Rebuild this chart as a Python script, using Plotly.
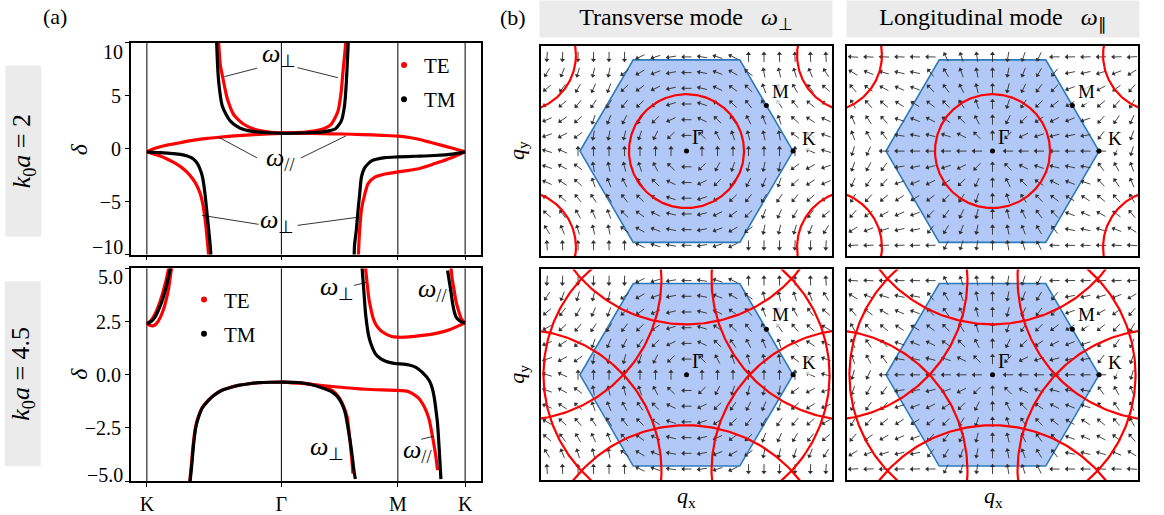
import numpy as np
import plotly.graph_objects as go

W, H = 1164, 515
SERIF = "Liberation Serif"
RED, BLACK = "#ff0000", "#000000"

# ---------------------------------------------------------------------------
# Band structure along K-Γ-M-K (path coordinate in units of |ΓK|)
# ---------------------------------------------------------------------------
path_ticks = [0.0, 1.0, 1.866, 2.366]
path_labels = ["K", "Γ", "M", "K"]

# k0 a = 2, TE
te2_par_s = [0, 0.05, 0.10, 0.15, 0.20, 0.27, 0.35, 0.45, 0.52, 0.65, 0.77, 0.90, 1.0,
             1.15, 1.30, 1.45, 1.60, 1.75, 1.866, 1.95, 2.02, 2.10, 2.18, 2.26, 2.366]
te2_par_d = [-0.3, -0.02, 0.18, 0.33, 0.45, 0.62, 0.80, 0.97, 1.05, 1.20, 1.30, 1.40, 1.45,
             1.45, 1.42, 1.38, 1.33, 1.25, 1.18, 1.05, 0.88, 0.62, 0.35, 0.08, -0.3]
te2_up_s = [0.531, 0.534, 0.546, 0.566, 0.596, 0.646, 0.72, 0.82, 0.92, 1.0, 1.08, 1.18,
            1.295, 1.37, 1.42, 1.445, 1.458, 1.475, 1.48]
te2_up_d = [10.6, 9.9, 7.9, 6.6, 4.8, 3.2, 2.3, 1.75, 1.55, 1.5, 1.5, 1.56,
            1.8, 2.3, 3.5, 5.4, 7.3, 9.5, 10.6]
te2_lowl_s = [0, 0.05, 0.10, 0.15, 0.20, 0.25, 0.30, 0.34, 0.372, 0.395, 0.41, 0.427, 0.442, 0.455, 0.462]
te2_lowl_d = [-0.3, -0.5, -0.7, -0.98, -1.3, -1.7, -2.25, -2.85, -3.5, -4.2, -4.9, -6.1, -7.7, -9.5, -10.6]
te2_lowr_s = [1.571, 1.575, 1.582, 1.595, 1.62, 1.645, 1.695, 1.77, 1.866, 1.95, 2.02, 2.10, 2.18, 2.27, 2.366]
te2_lowr_d = [-10.6, -9.3, -7.7, -5.8, -4.3, -3.3, -2.7, -2.4, -2.2, -2.05, -1.9, -1.6, -1.25, -0.84, -0.3]

# k0 a = 2, TM
tm2_up_s = [0.517, 0.52, 0.525, 0.534, 0.559, 0.59, 0.621, 0.67, 0.72, 0.80, 0.90, 1.0, 1.10,
            1.20, 1.295, 1.36, 1.40, 1.445, 1.47, 1.483, 1.495, 1.499]
tm2_up_d = [10.6, 9.6, 8.0, 6.3, 4.1, 3.2, 2.6, 2.1, 1.8, 1.6, 1.5, 1.45, 1.46,
            1.5, 1.56, 1.7, 1.85, 2.6, 4.1, 6.3, 9.4, 10.6]
tm2_lowl_s = [0, 0.05, 0.10, 0.15, 0.20, 0.25, 0.30, 0.33, 0.36, 0.38, 0.397, 0.412, 0.422,
              0.435, 0.447, 0.46, 0.472, 0.478]
tm2_lowl_d = [-0.3, -0.35, -0.38, -0.42, -0.47, -0.55, -0.7, -0.85, -1.15, -1.5, -2.0, -2.6, -3.3,
              -4.6, -6.1, -7.7, -9.3, -10.6]
tm2_lowr_s = [1.54, 1.544, 1.557, 1.57, 1.582, 1.595, 1.62, 1.67, 1.77, 1.866, 2.0, 2.14, 2.27, 2.366]
tm2_lowr_d = [-10.6, -9.1, -7.7, -5.8, -4.3, -2.7, -1.8, -1.15, -0.85, -0.78, -0.72, -0.65, -0.52, -0.3]

# k0 a = 4.5, TE
te45_ka_s = [0, 0.03, 0.06, 0.09, 0.12, 0.145, 0.165]
te45_ka_d = [2.4, 2.55, 2.85, 3.3, 3.9, 4.5, 5.1]
te45_kb_s = [0, 0.02, 0.045, 0.07, 0.10, 0.13, 0.16, 0.185]
te45_kb_d = [2.4, 2.33, 2.3, 2.4, 2.7, 3.2, 4.0, 5.1]
te45_main_s = [0.317, 0.33, 0.344, 0.36, 0.381, 0.41, 0.456, 0.50, 0.555, 0.62, 0.68, 0.76, 0.83, 0.92, 1.0]
te45_main_d = [-5.1, -4.3, -3.3, -2.5, -2.0, -1.55, -1.2, -0.95, -0.73, -0.6, -0.5, -0.42, -0.375, -0.35, -0.34]
te45_perp_s = [1.0, 1.13, 1.25, 1.32, 1.377, 1.427, 1.46, 1.489, 1.507, 1.522, 1.532]
te45_perp_d = [-0.34, -0.37, -0.47, -0.58, -0.73, -1.05, -1.45, -1.98, -2.92, -3.86, -4.64]
te45_par_s = [1.0, 1.13, 1.377, 1.626, 1.862, 1.94, 1.975, 2.02, 2.05, 2.08, 2.10, 2.124, 2.149, 2.161]
te45_par_d = [-0.34, -0.39, -0.55, -0.68, -0.73, -0.78, -0.89, -1.1, -1.36, -1.75, -2.14, -2.92, -3.86, -4.48]
te45_upr_s = [1.624, 1.638, 1.65, 1.663, 1.68, 1.70, 1.735, 1.775, 1.82, 1.862, 1.95, 2.05, 2.15, 2.25, 2.366]
te45_upr_d = [5.1, 4.27, 3.6, 3.17, 2.7, 2.39, 2.1, 1.92, 1.8, 1.77, 1.78, 1.85, 1.95, 2.12, 2.44]
te45_kr_s = [2.366, 2.34, 2.32, 2.30, 2.285, 2.27, 2.26]
te45_kr_d = [2.44, 2.6, 2.95, 3.4, 3.95, 4.5, 5.1]

# k0 a = 4.5, TM
tm45_kl_s = [0, 0.03, 0.06, 0.09, 0.12, 0.15, 0.178]
tm45_kl_d = [2.4, 2.5, 2.7, 3.1, 3.6, 4.3, 5.1]
tm45_main_s = [0.32, 0.333, 0.347, 0.363, 0.384, 0.413, 0.458, 0.50, 0.555, 0.62, 0.68, 0.76, 0.83, 0.92, 1.0]
tm45_main_d = [-5.1, -4.3, -3.3, -2.5, -2.0, -1.55, -1.2, -0.96, -0.74, -0.6, -0.5, -0.42, -0.37, -0.35, -0.34]
tm45_perp_s = [1.0, 1.13, 1.25, 1.377, 1.42, 1.45, 1.475, 1.49, 1.514, 1.53, 1.539, 1.55]
tm45_perp_d = [-0.34, -0.36, -0.5, -0.81, -1.05, -1.36, -1.8, -2.3, -3.23, -4.0, -4.48, -4.9]
tm45_mid_s = [1.599, 1.613, 1.626, 1.651, 1.675, 1.70, 1.74, 1.775, 1.82, 1.862, 1.91, 1.95, 2.0,
              2.05, 2.099, 2.12, 2.136, 2.15, 2.161, 2.174, 2.186]
tm45_mid_d = [5.1, 3.95, 2.86, 1.77, 1.3, 0.98, 0.75, 0.64, 0.56, 0.52, 0.5, 0.46, 0.35,
              0.1, -0.27, -0.6, -1.05, -1.7, -2.3, -3.55, -4.9]
tm45_kr_s = [2.366, 2.345, 2.323, 2.30, 2.286, 2.272, 2.261, 2.248, 2.236]
tm45_kr_d = [2.44, 2.47, 2.55, 2.7, 2.95, 3.4, 3.9, 4.4, 4.9]

bands_top = [
    (RED, te2_par_s, te2_par_d), (RED, te2_up_s, te2_up_d),
    (RED, te2_lowl_s, te2_lowl_d), (RED, te2_lowr_s, te2_lowr_d),
    (BLACK, tm2_up_s, tm2_up_d), (BLACK, tm2_lowl_s, tm2_lowl_d), (BLACK, tm2_lowr_s, tm2_lowr_d),
]
bands_bottom = [
    (RED, te45_ka_s, te45_ka_d), (RED, te45_kb_s, te45_kb_d), (RED, te45_main_s, te45_main_d),
    (RED, te45_perp_s, te45_perp_d), (RED, te45_par_s, te45_par_d), (RED, te45_upr_s, te45_upr_d),
    (RED, te45_kr_s, te45_kr_d),
    (BLACK, tm45_kl_s, tm45_kl_d), (BLACK, tm45_main_s, tm45_main_d), (BLACK, tm45_perp_s, tm45_perp_d),
    (BLACK, tm45_mid_s, tm45_mid_d), (BLACK, tm45_kr_s, tm45_kr_d),
]

# y ticks of the two band panels
top_ticks = [-10, -5, 0, 5, 10]
top_tick_text = ["−10", "−5", "0", "5", "10"]
bot_ticks = [-5, -2.5, 0, 2.5, 5]
bot_tick_text = ["−5.0", "−2.5", "0.0", "2.5", "5.0"]

# ---------------------------------------------------------------------------
# Brillouin-zone maps (q in units of |ΓK|)
# ---------------------------------------------------------------------------
k0a_values = [2, 4.5]
light_cone_radius = [0.54, 1.343]    # radius of the |q + G| = k0 circles
recip_len = 1.822                    # |G| of the reciprocal lattice
grid_dx, grid_dy = 0.1455, 0.149     # polarisation sampling grid
arrow_len = 0.095


def px_x(p):
    return p / W


def px_y(p):
    return 1 - p / H


def xd(a, b):
    return [a / W, b / W]


def yd(top, bot):
    return [1 - bot / H, 1 - top / H]


fig = go.Figure()

# ---- band panels ----
for (xa, ya, bands) in [("x", "y", bands_top), ("x2", "y2", bands_bottom)]:
    for col, s, d in bands:
        fig.add_trace(go.Scatter(
            x=s, y=d, xaxis=xa, yaxis=ya, mode="lines", showlegend=False, hoverinfo="skip",
            line=dict(color=col, width=3.2, shape="spline", smoothing=0.6)))

for leg in ["legend", "legend2"]:
    for i, (name, col) in enumerate([("TE", RED), ("TM", BLACK)]):
        fig.add_trace(go.Scatter(
            x=[None], y=[None], mode="markers", name=name, legend=leg,
            legendgroup=f"{leg}{i}", marker=dict(color=col, size=6),
            xaxis="x" if leg == "legend" else "x2", yaxis="y" if leg == "legend" else "y2"))

# ---- BZ panels ----
c30, s30 = np.cos(np.pi / 6), np.sin(np.pi / 6)
n = np.arange(-3, 4)
N1, N2 = np.meshgrid(n, n)
Gx = (N2 * recip_len * c30).ravel()
Gy = (N1 * recip_len + N2 * recip_len * s30).ravel()

hex_t = np.deg2rad(np.arange(0, 361, 60))
hex_x, hex_y = np.cos(hex_t), np.sin(hex_t)

cols = np.arange(-9, 10) * grid_dx
rows = np.arange(-6, 7) * grid_dy
QX, QY = np.meshgrid(cols, rows)
qx, qy = QX.ravel(), QY.ravel()
d2 = (qx[:, None] - Gx[None, :]) ** 2 + (qy[:, None] - Gy[None, :]) ** 2
kk = d2.argmin(axis=1)
rx, ry = qx - Gx[kk], qy - Gy[kk]
rn = np.hypot(rx, ry)
ok = rn > 1e-9
qx, qy, rx, ry, rn = qx[ok], qy[ok], rx[ok], ry[ok], rn[ok]

bz_panels = [
    ("x3", "y3", "T", 0), ("x4", "y4", "L", 0),
    ("x5", "y5", "T", 1), ("x6", "y6", "L", 1),
]

theta = np.linspace(0, 2 * np.pi, 361)
sym_pts_x = [0.0, 0.75, 1.0]
sym_pts_y = [0.0, 0.433, 0.0]
ARROW_COL = "#303030"

for xa, ya, mode, row in bz_panels:
    fig.add_trace(go.Scatter(
        x=hex_x, y=hex_y, xaxis=xa, yaxis=ya, mode="lines", fill="toself",
        fillcolor="#b2c8f6", line=dict(color="#2b7bba", width=1.6),
        showlegend=False, hoverinfo="skip"))

    ux, uy = rx / rn, ry / rn
    if mode == "T":
        ux, uy = -uy, ux
    flip = (ux > 1e-9) | ((np.abs(ux) <= 1e-9) & (uy < 0))
    ux = np.where(flip, -ux, ux)
    uy = np.where(flip, -uy, uy)
    h = arrow_len / 2
    sx, sy = [], []
    for x0, y0, a, b in zip(qx, qy, ux, uy):
        sx += [x0 - a * h, x0 + a * (h - 0.02), None]
        sy += [y0 - b * h, y0 + b * (h - 0.02), None]
    fig.add_trace(go.Scatter(
        x=sx, y=sy, xaxis=xa, yaxis=ya, mode="lines",
        line=dict(color=ARROW_COL, width=0.9), showlegend=False, hoverinfo="skip"))
    fig.add_trace(go.Scatter(
        x=qx + ux * (h - 0.018), y=qy + uy * (h - 0.018), xaxis=xa, yaxis=ya, mode="markers",
        marker=dict(symbol="triangle-up", size=4.5, color=ARROW_COL, line=dict(width=0),
                    angle=np.degrees(np.arctan2(ux, uy))),
        showlegend=False, hoverinfo="skip"))

    r = light_cone_radius[row]
    cx, cy = [], []
    for gx, gy in zip(Gx, Gy):
        if np.hypot(gx, gy) - r < 1.8:
            cx += list(gx + r * np.cos(theta)) + [None]
            cy += list(gy + r * np.sin(theta)) + [None]
    fig.add_trace(go.Scatter(
        x=cx, y=cy, xaxis=xa, yaxis=ya, mode="lines",
        line=dict(color=RED, width=2.2), showlegend=False, hoverinfo="skip"))

    fig.add_trace(go.Scatter(
        x=sym_pts_x, y=sym_pts_y, xaxis=xa, yaxis=ya, mode="markers",
        marker=dict(color="black", size=5), showlegend=False, hoverinfo="skip"))

# ---------------------------------------------------------------------------
# Layout
# ---------------------------------------------------------------------------
frame = dict(showline=True, linecolor="black", linewidth=1.8, mirror=True,
             showgrid=False, zeroline=False)
tickfont = dict(family=SERIF, size=20, color="black")

layout = dict(
    width=W, height=H, margin=dict(l=0, r=0, t=0, b=0),
    paper_bgcolor="white", plot_bgcolor="white",
    font=dict(family=SERIF, color="black"),
    showlegend=True,
)

# the outermost y labels are set as separate texts, nudged inside the frame
layout["xaxis"] = dict(domain=xd(131, 481), range=[-0.118, 2.484], anchor="y",
                       tickvals=path_ticks, ticktext=path_labels, showticklabels=False,
                       ticks="outside", ticklen=4, tickcolor="black", **frame)
layout["yaxis"] = dict(domain=yd(43, 256), range=[-10, 10], anchor="x",
                       tickvals=top_ticks, ticktext=[""] + top_tick_text[1:-1] + [""],
                       ticks="outside", ticklen=4, tickcolor="black", tickfont=tickfont, **frame)
layout["xaxis2"] = dict(domain=xd(131, 481), range=[-0.118, 2.484], anchor="y2",
                        tickvals=path_ticks, ticktext=path_labels, tickfont=tickfont,
                        ticks="outside", ticklen=4, tickcolor="black", **frame)
layout["yaxis2"] = dict(domain=yd(270, 484), range=[-5, 5], anchor="x2",
                        tickvals=bot_ticks, ticktext=[""] + bot_tick_text[1:-1] + [""],
                        ticks="outside", ticklen=4, tickcolor="black", tickfont=tickfont, **frame)

bz_dom = {
    3: (xd(541, 832), yd(46, 258)), 4: (xd(847, 1138), yd(46, 258)),
    5: (xd(541, 832), yd(271, 483)), 6: (xd(847, 1138), yd(271, 483)),
}
for i, (dx, dy) in bz_dom.items():
    layout[f"xaxis{i}"] = dict(domain=dx, range=[-1.366, 1.366], anchor=f"y{i}",
                               showticklabels=False, ticks="", **frame)
    layout[f"yaxis{i}"] = dict(domain=dy, range=[-1, 1], anchor=f"x{i}",
                               showticklabels=False, ticks="", **frame)

legfont = dict(family=SERIF, size=21, color="black")
layout["legend"] = dict(x=px_x(384), y=px_y(45), xanchor="left", yanchor="top",
                        bgcolor="rgba(0,0,0,0)", font=legfont, itemwidth=30,
                        tracegroupgap=4)
layout["legend2"] = dict(x=px_x(184), y=px_y(281), xanchor="left", yanchor="top",
                         bgcolor="rgba(0,0,0,0)", font=legfont, itemwidth=30,
                         tracegroupgap=4)

# vertical guide lines at the high-symmetry points
shapes = []
for xa, ya in [("x", "y"), ("x2", "y2")]:
    for xv in path_ticks:
        shapes.append(dict(type="line", xref=xa, yref=f"{ya} domain", x0=xv, x1=xv,
                           y0=0, y1=1, line=dict(color="black", width=1), layer="below"))

# leader lines from the mode labels to their branches
leaders_top = [((0.82, 7.6), (0.576, 6.8)), ((1.12, 7.65), (1.42, 6.7)),
               ((0.82, -0.88), (0.53, 1.1)), ((1.145, -0.88), (1.48, 1.2)),
               ((0.83, -7.15), (0.41, -6.3)), ((1.12, -7.25), (1.557, -6.5))]
leaders_bottom = [((1.54, 4.2), (1.63, 4.34)), ((2.245, 3.97), (2.28, 3.73)),
                  ((2.04, -3.03), (2.13, -2.89))]
for xa, ya, lst in [("x", "y", leaders_top), ("x2", "y2", leaders_bottom)]:
    for (a, b), (c, d) in lst:
        shapes.append(dict(type="line", xref=xa, yref=ya, x0=a, y0=b, x1=c, y1=d,
                           line=dict(color="black", width=0.8)))
layout["shapes"] = shapes

W_PERP = "<i>ω</i><sub>⊥</sub>"
W_PAR = "<i>ω</i><sub>//</sub>"
ann = []


def text(t, x, y, xref="paper", yref="paper", size=20, xanchor="center", **kw):
    ann.append(dict(text=t, x=x, y=y, xref=xref, yref=yref, showarrow=False,
                    xanchor=xanchor, yanchor="middle",
                    font=dict(family=SERIF, size=size, color="black"), **kw))


# end labels of the y axes
text(top_tick_text[-1], px_x(125), px_y(52), size=20, xanchor="right")
text(top_tick_text[0], px_x(125), px_y(248), size=20, xanchor="right")
text(bot_tick_text[-1], px_x(125), px_y(279), size=20, xanchor="right")
text(bot_tick_text[0], px_x(125), px_y(478), size=20, xanchor="right")

text("(a)", px_x(55), px_y(17), size=22)
text("(b)", px_x(513), px_y(18), size=22)
text("Transverse mode &nbsp;&nbsp;" + W_PERP, px_x(686), px_y(19), size=24,
     bgcolor="#ebebeb", width=290, height=34)
text("Longitudinal mode &nbsp;&nbsp;<i>ω</i><sub>∥</sub>", px_x(993), px_y(19), size=24,
     bgcolor="#ebebeb", width=290, height=34)
text(f"<i>k</i><sub>0</sub><i>a</i> = {k0a_values[0]}", px_x(23), px_y(152), size=26,
     textangle=-90, bgcolor="#ebebeb", width=168, height=33)
text(f"<i>k</i><sub>0</sub><i>a</i> = {k0a_values[1]}", px_x(23), px_y(376), size=26,
     textangle=-90, bgcolor="#ebebeb", width=182, height=33)
text("<i>δ</i>", px_x(79), px_y(150), size=24, textangle=-90)
text("<i>δ</i>", px_x(79), px_y(376), size=24, textangle=-90)
for yy in (152, 377):
    text("<i>q</i><sub>y</sub>", px_x(518), px_y(yy), size=22, textangle=-90)
for xx in (686, 993):
    text("<i>q</i><sub>x</sub>", px_x(xx), px_y(500), size=22)

# mode labels on the band panels
text(W_PERP, 0.98, 8.8, "x", "y", size=26)
text(W_PAR, 0.99, -1.0, "x", "y", size=26)
text(W_PERP, 0.97, -6.8, "x", "y", size=26)
text(W_PERP, 1.41, 4.06, "x2", "y2", size=26)
text(W_PAR, 2.12, 3.97, "x2", "y2", size=26)
text(W_PERP, 1.34, -3.45, "x2", "y2", size=26)
text(W_PAR, 2.01, -3.6, "x2", "y2", size=26)

# high-symmetry point labels on the BZ maps
for i in range(3, 7):
    text("Γ", 0.11, 0.13, f"x{i}", f"y{i}", size=20)
    text("M", 0.88, 0.57, f"x{i}", f"y{i}", size=19, bgcolor="rgba(255,255,255,0.75)")
    text("K", 1.15, 0.12, f"x{i}", f"y{i}", size=19, bgcolor="rgba(255,255,255,0.75)")

layout["annotations"] = ann
fig.update_layout(**layout)
fig.write_html("out.html")
